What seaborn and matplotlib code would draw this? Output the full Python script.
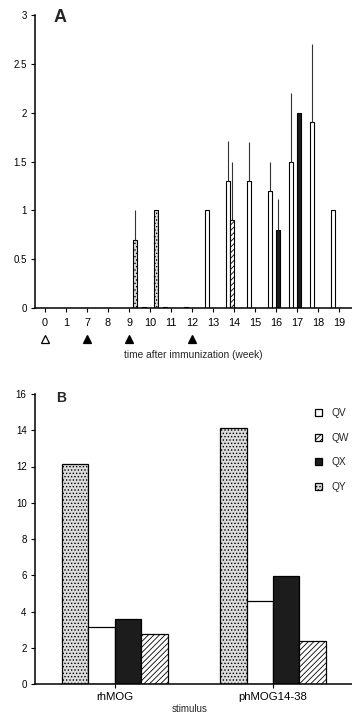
import numpy as np
import pandas as pd
import matplotlib
matplotlib.use("Agg")
import matplotlib.pyplot as plt
import seaborn as sns
from matplotlib.patches import Patch

# ---------------- data ----------------
weeks = ["0", "1", "7", "8", "9", "10", "11", "12", "13", "14", "15", "16", "17", "18", "19"]
series = ["QV", "QW", "QX", "QY"]

a_qv = [0, 0, 0, 0, 0, 0.01, 0.01, 0.01, 1.0, 1.3, 1.3, 1.2, 1.5, 1.9, 1.0]
a_qw = [0, 0, 0, 0, 0, 0, 0, 0, 0, 0.9, 0, 0, 0, 0, 0]
a_qx = [0, 0, 0, 0, 0, 0, 0, 0, 0, 0, 0, 0.8, 2.0, 0, 0]
a_qy = [0, 0, 0, 0, 0.7, 1.0, 0, 0, 0, 0, 0, 0, 0, 0, 0]
nan = np.nan
a_qv_top = [nan, nan, nan, nan, nan, nan, nan, nan, nan, 1.71, 1.70, 1.5, 2.2, 2.7, nan]
a_qw_top = [nan, nan, nan, nan, nan, nan, nan, nan, nan, 1.5, nan, nan, nan, nan, nan]
a_qx_top = [nan, nan, nan, nan, nan, nan, nan, nan, nan, nan, nan, 1.12, nan, nan, nan]
a_qy_top = [nan, nan, nan, nan, 1.0, nan, nan, nan, nan, nan, nan, nan, nan, nan, nan]

immun_weeks = ["0", "7", "9", "12"]
immun_filled = [False, True, True, True]

stimuli = ["rhMOG", "phMOG14-38"]
b_order = ["QY", "QV", "QX", "QW"]
b_qv = [3.12, 4.6]
b_qw = [2.75, 2.37]
b_qx = [3.57, 5.95]
b_qy = [12.12, 14.15]

# ---------------- styles ----------------
styles = {
    "QV": dict(facecolor="white", hatch=None),
    "QW": dict(facecolor="white", hatch="//////"),
    "QX": dict(facecolor="#1c1c1c", hatch=None),
    "QY": dict(facecolor="#dcdcdc", hatch="....."),
}

sns.set_theme(style="ticks")
plt.rcParams["font.family"] = ["Liberation Sans", "DejaVu Sans"]
plt.rcParams["hatch.linewidth"] = 0.6

W, H = 352, 716
fig = plt.figure(figsize=(W / 100, H / 100), dpi=100)

# ---------------- panel A ----------------
axA = fig.add_axes([35 / W, 1 - 308 / H, (W - 35) / W, 293 / H])
dfA = pd.DataFrame({
    "week": weeks * 4,
    "series": sum([[s] * len(weeks) for s in series], []),
    "value": a_qv + a_qw + a_qx + a_qy,
})
sns.barplot(data=dfA, x="week", y="value", hue="series", order=weeks, hue_order=series,
            width=0.8, errorbar=None, legend=False, saturation=1, ax=axA)
tops = {"QV": a_qv_top, "QW": a_qw_top, "QX": a_qx_top, "QY": a_qy_top}
for s, cont in zip(series, axA.containers):
    for i, bar in enumerate(cont):
        bar.set_facecolor(styles[s]["facecolor"])
        bar.set_edgecolor("black")
        bar.set_linewidth(0.8)
        if styles[s]["hatch"]:
            bar.set_hatch(styles[s]["hatch"])
        t = tops[s][i]
        if not np.isnan(t):
            xc = bar.get_x() + bar.get_width() / 2
            axA.vlines(xc, bar.get_height(), t, color="#333333", lw=0.8)

axA.set_ylim(0, 3)
axA.set_xlim(-0.48, 14.62)
axA.set_yticks([0, 0.5, 1, 1.5, 2, 2.5, 3])
axA.set_yticklabels(["0", "0.5", "1", "1.5", "2", "2.5", "3"])
axA.set_xlabel("")
axA.set_ylabel("")
axA.tick_params(axis="y", labelsize=7, length=3, width=0.8, pad=3, colors="black")
axA.tick_params(axis="x", labelsize=7.8, length=3, width=0.8, pad=4, colors="black")
sns.despine(ax=axA)
for sp in ["left", "bottom"]:
    axA.spines[sp].set_linewidth(1.1)
    axA.spines[sp].set_color("black")

# immunization markers
trans = matplotlib.transforms.blended_transform_factory(axA.transData, axA.transAxes)
for w, f in zip(immun_weeks, immun_filled):
    xi = weeks.index(w)
    axA.plot([xi], [-0.105], marker="^", markersize=5.5, clip_on=False, transform=trans,
             markerfacecolor="black" if f else "white", markeredgecolor="black",
             markeredgewidth=0.9, linestyle="none")
axA.text(0.5, -0.16, "time after immunization (week)", transform=axA.transAxes,
         ha="center", va="center", fontsize=7.3)
fig.text(54 / W, 1 - 26 / H, "A", fontsize=13, fontweight="bold", ha="left", va="bottom")

# ---------------- panel B ----------------
axB = fig.add_axes([35 / W, 1 - 684 / H, (W - 35) / W, 290 / H])
bvals = {"QV": b_qv, "QW": b_qw, "QX": b_qx, "QY": b_qy}
dfB = pd.DataFrame({
    "stimulus": stimuli * 4,
    "series": sum([[s] * len(stimuli) for s in b_order], []),
    "value": sum([bvals[s] for s in b_order], []),
})
sns.barplot(data=dfB, x="stimulus", y="value", hue="series", order=stimuli, hue_order=b_order,
            width=0.67, errorbar=None, legend=False, saturation=1, ax=axB)
for s, cont in zip(b_order, axB.containers):
    for bar in cont:
        bar.set_facecolor(styles[s]["facecolor"])
        bar.set_edgecolor("black")
        bar.set_linewidth(0.9)
        if styles[s]["hatch"]:
            bar.set_hatch(styles[s]["hatch"])

axB.set_ylim(0, 16)
axB.set_xlim(-0.506, 1.5)
axB.set_yticks(range(0, 17, 2))
axB.set_xlabel("")
axB.set_ylabel("")
axB.tick_params(axis="y", labelsize=7, length=3, width=0.8, pad=3, colors="black")
axB.tick_params(axis="x", labelsize=8.2, length=3, width=0.8, pad=3, colors="black")
sns.despine(ax=axB)
for sp in ["left", "bottom"]:
    axB.spines[sp].set_linewidth(1.1)
    axB.spines[sp].set_color("black")
fig.text(190 / W, 1 - 709 / H, "stimulus", fontsize=7, ha="center", va="center")
fig.text(56 / W, 1 - 405 / H, "B", fontsize=10, fontweight="bold", ha="left", va="bottom")

handles = [Patch(facecolor=styles[s]["facecolor"], edgecolor="black", hatch=styles[s]["hatch"],
                 linewidth=0.9) for s in series]
fig.legend(handles, series, loc="upper left", bbox_to_anchor=(315 / W, 1 - 408 / H),
           frameon=False, fontsize=7.3, handlelength=0.7, handleheight=0.7,
           handletextpad=0.9, labelspacing=1.45, borderpad=0, borderaxespad=0)

fig.savefig("out.png", dpi=100)
